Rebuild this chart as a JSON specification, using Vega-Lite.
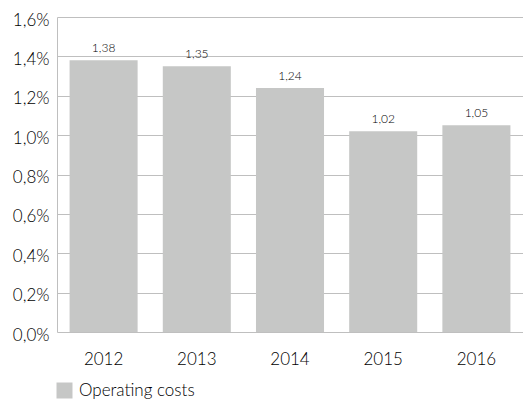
{
  "$schema": "https://vega.github.io/schema/vega-lite/v6.json",
  "width": 466,
  "height": 315,
  "autosize": "none",
  "padding": {"left": 57, "top": 17, "right": 0, "bottom": 71},
  "background": "white",
  "config": {
    "view": {"stroke": null},
    "font": "Lato",
    "locale": {"number": {"decimal": ",", "thousands": ".", "grouping": [3], "currency": ["", " €"]}}
  },
  "data": {
    "values": [
      {"year": "2012", "value": 1.38, "series": "Operating costs"},
      {"year": "2013", "value": 1.35, "series": "Operating costs"},
      {"year": "2014", "value": 1.24, "series": "Operating costs"},
      {"year": "2015", "value": 1.02, "series": "Operating costs"},
      {"year": "2016", "value": 1.05, "series": "Operating costs"}
    ]
  },
  "encoding": {
    "x": {
      "field": "year", "type": "nominal",
      "scale": {"paddingInner": 0.27, "paddingOuter": 0.135},
      "axis": {"title": null, "labelAngle": 0, "labelFontSize": 17, "labelFontWeight": 300, "labelColor": "#000000", "labelPadding": 19, "ticks": false, "domain": false}
    },
    "y": {
      "field": "value", "type": "quantitative",
      "scale": {"domain": [0, 1.6]},
      "axis": {"title": null, "values": [0, 0.2, 0.4, 0.6, 0.8, 1.0, 1.2, 1.4, 1.6], "labelExpr": "replace(format(datum.value, '.1f'), '.', ',') + '%'", "labelFontSize": 17, "labelFontWeight": 300, "labelColor": "#000000", "labelPadding": 8, "labelOffset": 3, "ticks": false, "domainColor": "#bfbfbf", "gridColor": "#bfbfbf", "gridWidth": 1}
    }
  },
  "layer": [
    {
      "mark": {"type": "bar", "color": "#c6c7c6"},
      "encoding": {
        "color": {
          "field": "series", "type": "nominal",
          "scale": {"range": ["#c6c7c6"]},
          "legend": {"title": null, "orient": "none", "legendX": -1, "legendY": 365, "symbolType": "square", "symbolSize": 256, "symbolStrokeWidth": 0, "labelFontSize": 17, "labelFontWeight": 300, "labelColor": "#000000", "labelOffset": 6, "padding": 0}
        }
      }
    },
    {
      "mark": {"type": "text", "baseline": "bottom", "dy": -5, "fontSize": 12, "fontWeight": 300, "color": "#000000"},
      "encoding": {
        "text": {"field": "value", "type": "quantitative", "format": ".2f"}
      }
    }
  ]
}
